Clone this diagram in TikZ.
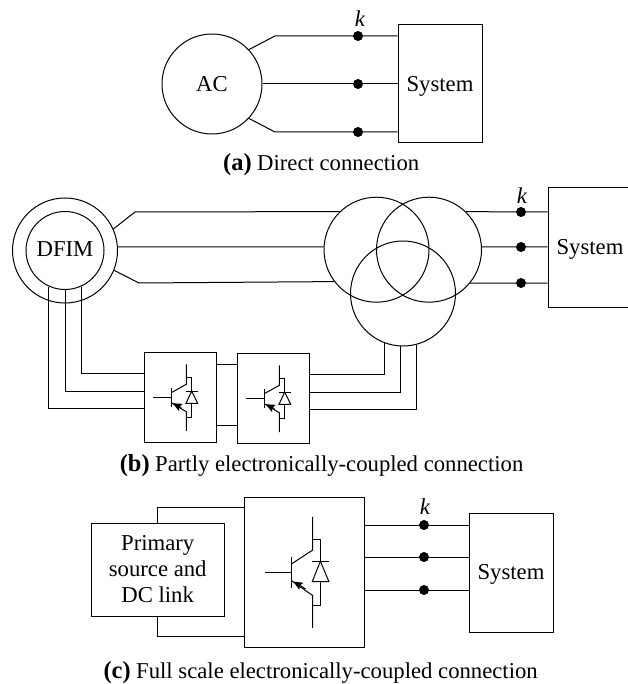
\documentclass[tikz,border=0pt]{standalone}
\usepackage{fontspec}
\setmainfont{Liberation Serif}
\usetikzlibrary{arrows.meta}
\def\boxline{1pt}
\tikzset{
    every node/.style={font=\fontsize{22.7}{26}\selectfont},
    wire/.style={line width=1pt},
    ring/.style={circle,draw,line width=1pt,inner sep=0pt},
    block/.style={rectangle,draw,line width=\boxline,inner sep=0pt,align=center,text depth=0pt},
    busdot/.style={circle,fill=black,inner sep=0pt,minimum size=10pt},
    caption/.style={inner sep=0pt,anchor=base west},
}
\newcommand{\igbt}[4]{
    \begin{scope}[shift={(#1,#2)},xscale=#3,yscale=#4,wire]
        \draw (-33.6,0) -- (-15,0);
        \draw (-15,-9.5) -- (-15,9.5);
        \draw (0,-33.4) -- (0,-13.4) -- (-15,-5);
        \draw (0,33.4) -- (0,14) -- (-15,5);
        \draw [-{Stealth[length=9pt,width=8pt,inset=1.5pt]}] (-5,10) -- (-13.5,5.6);
        \draw (0,-20) -- (5.4,-20) -- (5.4,-6.7);
        \draw (-0.3,-6.7) -- (11.4,-6.7);
        \draw (5.4,-6.7) -- (-0.3,5.6) -- (11.4,5.6) -- cycle;
        \draw (5.4,5.6) -- (5.4,20) -- (0,20);
    \end{scope}
}
\newcommand{\kmark}[2]{
    \node[inner sep=0pt] (#1) at (#2) {\textit{k}};
}
\newcommand{\capline}[3]{
    \node[caption] at (#1) {\llap{{\fontsize{24.5}{26}\selectfont\bfseries (#2)}\hspace{5.5pt}}#3};
}
\begin{document}
\begin{tikzpicture}[x=1pt,y=-1pt]
    \useasboundingbox (0,0) rectangle (627,684);
    \node[ring,minimum size=100pt] (acgen) at (212,84) {AC};
    \node[block,minimum width=84pt,minimum height=118pt] (sysa) at (440,84) {System};
    \node[busdot] (ka1) at (358,36) {};
    \node[busdot] (ka2) at (358,84) {};
    \node[busdot] (ka3) at (358,132) {};
    \kmark{kla}{360,19}
    \draw[wire] (acgen.43) -- (275,36) -- (ka1) -- (sysa.west |- ka1);
    \draw[wire] (acgen.east) -- (ka2) -- (sysa.west |- ka2);
    \draw[wire] (acgen.-43) -- (275,132) -- (ka3) -- (sysa.west |- ka3);
    \capline{257,171}{a}{Direct connection}

    \node[ring,minimum size=105pt] (dfimo) at (65,250.5) {};
    \node[ring,minimum size=78pt] (dfimi) at (65,250.5) {\raisebox{2pt}{DFIM}};
    \node[ring,minimum size=105pt] (tra) at (376.5,249.7) {};
    \node[ring,minimum size=105pt] (trb) at (429,249.7) {};
    \node[ring,minimum size=105pt] (trc) at (403,293.5) {};
    \node[block,minimum width=72pt,minimum height=90pt] (convl) at (180,397) {};
    \node[block,minimum width=72pt,minimum height=90pt] (convr) at (273,398) {};
    \igbt{186.3}{397.7}{1}{1}
    \igbt{279.3}{398.7}{1}{1}
    \node[block,minimum width=84pt,minimum height=119pt] (sysb) at (590,247.5) {\raisebox{1pt}{System}};
    \node[busdot] (kb1) at (521,212) {};
    \node[busdot] (kb2) at (521,247) {};
    \node[busdot] (kb3) at (521,283) {};
    \kmark{klb}{522,196}
    \draw[wire] (dfimo.24) -- (135,212) -- (tra.134);
    \draw[wire] (dfimo.4) -- (tra.177);
    \draw[wire] (dfimo.-22) -- (139,283) -- (tra.-143);
    \draw[wire] (trb.46) -- (kb1) -- (sysb.west |- kb1);
    \draw[wire] (trb.3) -- (kb2) -- (sysb.west |- kb2);
    \draw[wire] (trb.-39.5) -- (kb3) -- (sysb.west |- kb3);
    \draw[wire] (dfimi.-66) |- ([yshift=24pt]convl.west);
    \draw[wire] (dfimi.south) |- ([yshift=6pt]convl.west);
    \draw[wire] (dfimi.-114) |- ([yshift=-11pt]convl.west);
    \draw[wire] ([yshift=33pt]convl.east) -- ([yshift=34pt]convr.west);
    \draw[wire] ([yshift=-28pt]convl.east) -- ([yshift=-27pt]convr.west);
    \draw[wire] ([yshift=24pt]convr.east) -| (trc.-111);
    \draw[wire] ([yshift=6pt]convr.east) -| (trc.-93);
    \draw[wire] ([yshift=-11pt]convr.east) -| (trc.-75);
    \capline{155,471}{b}{Partly electronically-coupled connection}

    \node[block,minimum width=133pt,minimum height=93pt,text depth=2pt] (dcsrc) at (157.7,569.7) {Primary\\source and\\DC link};
    \node[block,minimum width=120.5pt,minimum height=150pt] (convc) at (304.5,572.7) {};
    \igbt{312.7}{572.3}{1.42}{1.66}
    \node[block,minimum width=84pt,minimum height=119pt] (sysc) at (511,572.5) {\raisebox{2pt}{System}};
    \node[busdot] (kc1) at (424,525) {};
    \node[busdot] (kc2) at (424,557) {};
    \node[busdot] (kc3) at (424,590) {};
    \kmark{klc}{425,507}
    \draw[wire] (dcsrc.north) |- (convc.west |- 0,507);
    \draw[wire] (dcsrc.south) |- (convc.west |- 0,636);
    \draw[wire] (convc.east |- kc1) -- (kc1) -- (sysc.west |- kc1);
    \draw[wire] (convc.east |- kc2) -- (kc2) -- (sysc.west |- kc2);
    \draw[wire] (convc.east |- kc3) -- (kc3) -- (sysc.west |- kc3);
    \capline{136,678}{c}{Full scale electronically-coupled connection}
\end{tikzpicture}
\end{document}
